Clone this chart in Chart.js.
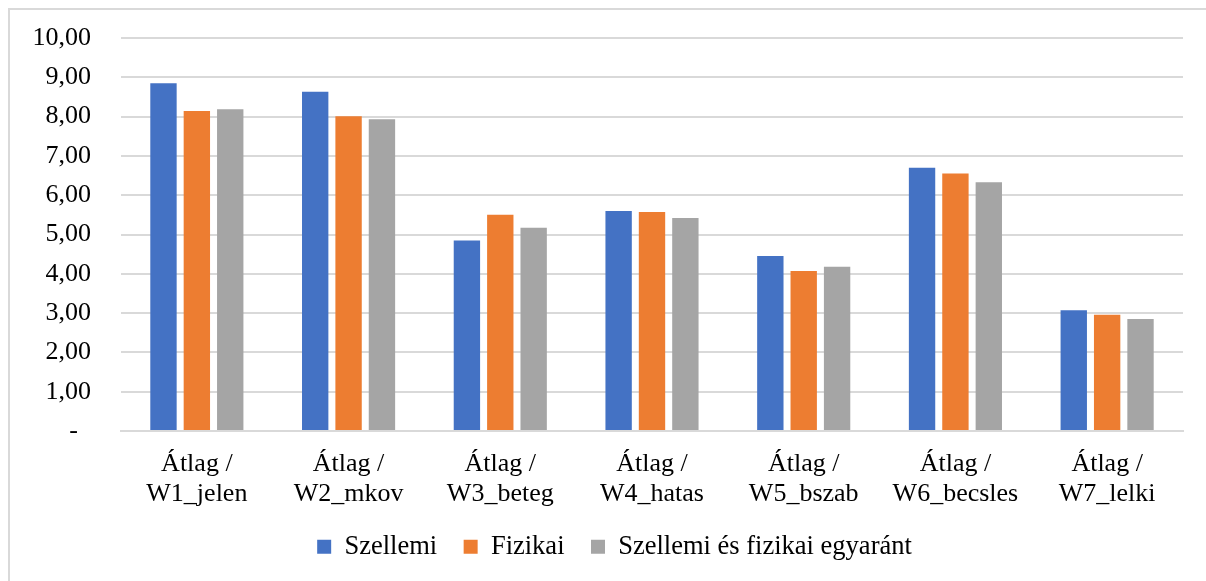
<!DOCTYPE html>
<html>
<head>
<meta charset="utf-8">
<script src="https://cdn.jsdelivr.net/npm/chart.js@4.4.1/dist/chart.umd.min.js"></script>
<style>
  html, body { margin: 0; padding: 0; background: #fff; }
  #wrap { position: relative; width: 1206px; height: 581px; overflow: hidden; }
  #frame { position: absolute; left: 8px; top: 8px; width: 1300px; height: 700px;
           border-left: 2px solid #d9d9d9; border-top: 2px solid #d9d9d9; }
  canvas { position: absolute; left: 0; top: 0; }
</style>
</head>
<body>
<div id="wrap">
  <div id="frame"></div>
  <canvas id="chart" width="1206" height="581"></canvas>
</div>
<script>
// categories (two-line labels as in the sheet)
const categories = [
    ['Átlag /', 'W1_jelen'],
    ['Átlag /', 'W2_mkov'],
    ['Átlag /', 'W3_beteg'],
    ['Átlag /', 'W4_hatas'],
    ['Átlag /', 'W5_bszab'],
    ['Átlag /', 'W6_becsles'],
    ['Átlag /', 'W7_lelki'],
];

// series values
const szellemi = [8.85, 8.63, 4.85, 5.60, 4.45, 6.70, 3.07];
const fizikai = [8.14, 8.01, 5.50, 5.57, 4.07, 6.55, 2.96];
const mindketto = [8.19, 7.93, 5.17, 5.42, 4.18, 6.33, 2.85];

const seriesNames = ['Szellemi', 'Fizikai', 'Szellemi és fizikai egyaránt'];
const seriesColors = ['#4472c4', '#ed7d31', '#a5a5a5'];

const FONT = "'Liberation Serif', 'Times New Roman', serif";

// the legend in the sheet sits a bit right of the plot centre
const shiftLegend = {
    id: 'shiftLegend',
    afterUpdate(chart) {
        chart.legend.left += 23;
        chart.legend.right += 23;
    },
};

const ctx = document.getElementById('chart').getContext('2d');

new Chart(ctx, {
    type: 'bar',
    data: {
        labels: categories,
        datasets: [szellemi, fizikai, mindketto].map((vals, i) => ({
            label: seriesNames[i],
            data: vals,
            backgroundColor: seriesColors[i],
            borderWidth: 0,
            categoryPercentage: 0.66,
            barPercentage: 0.79,
        })),
    },
    options: {
        responsive: false,
        animation: false,
        layout: {
            padding: { left: 0, right: 23, top: 0, bottom: 11 },
        },
        scales: {
            x: {
                grid: { display: false, drawTicks: false },
                border: { display: true, color: '#d9d9d9', width: 2 },
                ticks: {
                    color: '#000',
                    font: { family: FONT, size: 26, lineHeight: 1.15 },
                    padding: 18,
                    maxRotation: 0,
                    autoSkip: false,
                },
                afterFit: (scale) => { scale.height = 76; },
            },
            y: {
                min: 0,
                max: 10,
                grid: { color: '#d9d9d9', lineWidth: 2, drawTicks: false },
                border: { display: false },
                ticks: {
                    stepSize: 1,
                    color: '#000',
                    font: { family: FONT, size: 26 },
                    padding: 30,
                    callback: (value) => value === 0 ? '-  ' : value.toFixed(2).replace('.', ','),
                },
                afterFit: (scale) => {
                    scale.width = 121;
                    scale.paddingTop = 38;
                },
            },
        },
        plugins: {
            legend: {
                position: 'bottom',
                labels: {
                    color: '#000',
                    font: { family: FONT, size: 26.5 },
                    boxWidth: 14,
                    boxHeight: 14,
                    padding: 26.5,
                },
            },
            tooltip: { enabled: false },
        },
    },
    plugins: [shiftLegend],
});
</script>
</body>
</html>
